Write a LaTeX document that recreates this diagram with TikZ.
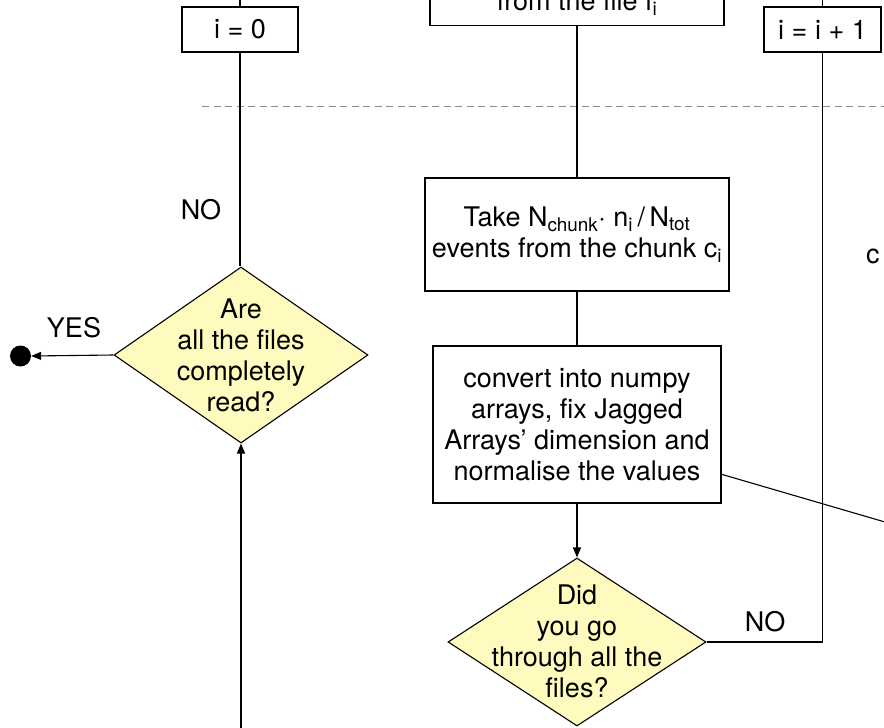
\documentclass[tikz,border=0pt]{standalone}
\usepackage{fontspec}
\setmainfont{TeX Gyre Heros}
\usetikzlibrary{shapes.geometric, arrows.meta}
\definecolor{decisionfill}{RGB}{255,251,190}
\definecolor{sepgray}{RGB}{140,140,140}
\tikzset{
    box/.style = {draw, rectangle, line width = 1.1pt, inner sep = 0pt, minimum height = 45pt},
    decision/.style = {draw, diamond, fill = decisionfill, line width = 1.1pt, inner sep = 0pt},
    flow/.style = {line width = 1.1pt},
    tip/.style = {flow, -{Triangle[length = 10pt, width = 8pt]}}
}

\begin{document}
\begin{tikzpicture}[x = 1pt, y = -1pt, align = center, font = \fontsize{27}{31}\selectfont]
    \useasboundingbox (0, 0) rectangle (884, 728);
    \clip (0, 0) rectangle (884, 728);
    % top row
    \node (init) at (240, 29.5) [box, minimum width = 116] {i = 0};
    \node (read) at (577, 26) [box, anchor = south, minimum width = 294, minimum height = 0pt, inner ysep = 9pt, text depth = 6pt] {from the file f\textsubscript{i}};
    \node (incr) at (822.5, 29.5) [box, minimum width = 117] {i = i + 1};
    \draw[sepgray, line width = 1pt, dash pattern = on 7pt off 4.5pt] (202, 106) -- (890, 106);
    % middle column
    \node (take) at (577, 234.5) [box, minimum width = 304, minimum height = 113] {Take N\textsubscript{chunk}{·} n\textsubscript{i}\,/\,N\textsubscript{tot}\\events from the chunk c\textsubscript{i}};
    \node (conv) at (577, 424.5) [box, minimum width = 288, minimum height = 157] {convert into numpy\\arrays, fix Jagged\\Arrays’ dimension and\\normalise the values};
    \node (did) at (577, 642) [decision, minimum width = 258, minimum height = 168] {};
    \node (didText) at (577, 641) {Did\\you go\\through all the\\files?};
    % left column
    \node (done) at (241, 355) [decision, minimum width = 254, minimum height = 176] {};
    \node (doneText) at (241, 355) {Are\\all the files\\completely\\read?};
    \node (stop) at (20.5, 356) [circle, fill = black, inner sep = 0pt, minimum size = 21] {};
    % labels
    \node (noLeft) at (201, 210) {NO};
    \node (yes) at (74, 328) {YES};
    \node (noRight) at (765, 622) {NO};
    \node (cut) at (866, 263) [anchor = base west, inner sep = 0pt] {c};
    % connectors
    \coordinate (initUp) at (240, -10);
    \coordinate (incrUp) at (822.5, -10);
    \coordinate (loopIn) at (241, 740);
    \coordinate (offRight) at (950, 541);
    \draw[flow] (init.north) -- (initUp);
    \draw[flow] (init.south) -- (done.north -| init.south);
    \draw[tip] (done.west) -- (stop.east);
    \draw[tip] (loopIn) -- (done.south);
    \draw[flow] (read.south) -- (take.north);
    \draw[flow] (take.south) -- (conv.north);
    \draw[tip] (conv.south) -- (did.north);
    \draw[flow] (did.east) -| (incr.south);
    \draw[flow] (incr.north) -- (incrUp);
    \draw[flow] (conv.-19) -- (offRight);
\end{tikzpicture}
\end{document}
